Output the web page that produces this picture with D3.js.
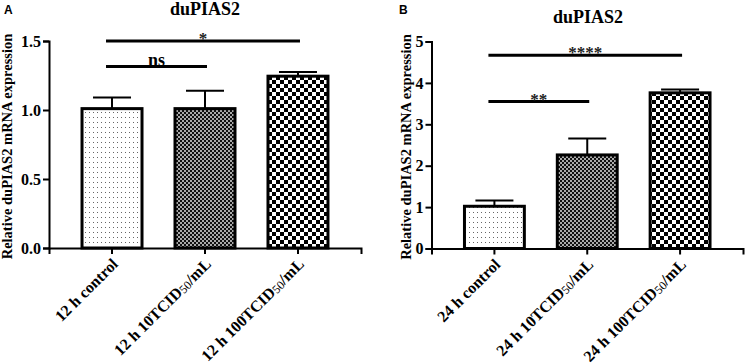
<!DOCTYPE html>
<html>
<head>
<meta charset="utf-8">
<script src="https://cdn.jsdelivr.net/npm/d3@7"></script>
<style>
body { margin: 0; background: #fff; }
</style>
</head>
<body>
<script>
var width = 746;
var height = 364;

// data
var groupsA = ["12 h control", "12 h 10TCID50/mL", "12 h 100TCID50/mL"];
var meansA = [1.01, 1.01, 1.245];
var errorsA = [0.08, 0.13, 0.03];
var ticksA = [0, 0.5, 1.0, 1.5];
var sigA = [
  {from: 0, to: 1, y: 1.315, label: "ns"},
  {from: 0, to: 2, y: 1.5, label: "*"}
];

var groupsB = ["24 h control", "24 h 10TCID50/mL", "24 h 100TCID50/mL"];
var meansB = [1.02, 2.26, 3.76];
var errorsB = [0.14, 0.4, 0.08];
var ticksB = [0, 1, 2, 3, 4, 5];
var sigB = [
  {from: 0, to: 1, y: 3.55, label: "**"},
  {from: 0, to: 2, y: 4.67, label: "****"}
];

var serif = "'Liberation Serif', 'Times New Roman', serif";

var svg = d3.select("body")
.append("svg")
.attr("width", width)
.attr("height", height)
.attr("font-family", serif)
.attr("font-weight", "bold");

// fill patterns
var defs = svg.append("defs");

var p1 = defs.append("pattern")
.attr("id", "dots")
.attr("patternUnits", "userSpaceOnUse")
.attr("width", 4).attr("height", 5);
p1.append("rect").attr("width", 4).attr("height", 5).attr("fill", "#fff");
p1.append("rect").attr("x", 1).attr("y", 2).attr("width", 1).attr("height", 1).attr("fill", "#666");

var p2 = defs.append("pattern")
.attr("id", "fine")
.attr("patternUnits", "userSpaceOnUse")
.attr("width", 4).attr("height", 4);
p2.append("rect").attr("width", 4).attr("height", 4).attr("fill", "#aaa");
p2.append("rect").attr("width", 2).attr("height", 2).attr("fill", "#111");
p2.append("rect").attr("x", 2).attr("y", 2).attr("width", 2).attr("height", 2).attr("fill", "#111");

var p3 = defs.append("pattern")
.attr("id", "coarse")
.attr("patternUnits", "userSpaceOnUse")
.attr("width", 8).attr("height", 8);
p3.append("rect").attr("width", 8).attr("height", 8).attr("fill", "#fff");
p3.append("rect").attr("width", 4).attr("height", 4).attr("fill", "#000");
p3.append("rect").attr("x", 4).attr("y", 4).attr("width", 4).attr("height", 4).attr("fill", "#000");

var fills = ["url(#dots)", "url(#fine)", "url(#coarse)"];

function drawPanel(opt) {
  var g = svg.append("g");

  var xScale = d3.scaleBand()
  .domain(d3.range(opt.groups.length))
  .range([opt.x0, opt.x1])
  .paddingInner(0.3226)
  .paddingOuter(0.339);

  var yScale = d3.scaleLinear()
  .domain([0, d3.max(opt.ticks)])
  .range([opt.y0, opt.y1]);

  // bars
  g.selectAll(".bar")
  .data(opt.means)
  .enter()
  .append("rect")
  .attr("x", function(d, i) { return xScale(i) + 1.5; })
  .attr("y", function(d) { return yScale(d); })
  .attr("width", xScale.bandwidth() - 3)
  .attr("height", function(d) { return yScale(0) - yScale(d); })
  .attr("fill", function(d, i) { return fills[i]; })
  .attr("stroke", "#000")
  .attr("stroke-width", 3);

  // error bars
  opt.means.forEach(function(m, i) {
    var cx = xScale(i) + xScale.bandwidth() / 2;
    var top = yScale(m + opt.errors[i]);
    g.append("line")
    .attr("x1", cx).attr("x2", cx)
    .attr("y1", yScale(m)).attr("y2", top)
    .attr("stroke", "#000").attr("stroke-width", 2);
    g.append("line")
    .attr("x1", cx - 19).attr("x2", cx + 19)
    .attr("y1", top).attr("y2", top)
    .attr("stroke", "#000").attr("stroke-width", 2);
  });

  // axes
  var yAxis = d3.axisLeft(yScale)
  .tickValues(opt.ticks)
  .tickFormat(opt.fmt)
  .tickSizeOuter(0)
  .tickSize(6)
  .tickPadding(2);

  var ya = g.append("g")
  .attr("transform", "translate(" + opt.x0 + ",0)")
  .call(yAxis);
  ya.select(".domain").attr("stroke-width", 2);
  ya.selectAll(".tick line").attr("stroke-width", 2);
  ya.selectAll(".tick text")
  .attr("font-size", "16px")
  .attr("font-family", serif)
  .attr("font-weight", "bold")
  .attr("fill", "#000");

  var xAxis = d3.axisBottom(xScale)
  .tickSizeOuter(0)
  .tickSize(6)
  .tickFormat("");

  var xa = g.append("g")
  .attr("transform", "translate(0," + opt.y0 + ")")
  .call(xAxis);
  xa.select(".domain").attr("stroke-width", 2);
  xa.selectAll(".tick line").attr("stroke-width", 2);

  // rotated category labels
  opt.groups.forEach(function(name, i) {
    var cx = xScale(i) + xScale.bandwidth() / 2;
    var t = g.append("text")
    .attr("transform", "translate(" + (cx + 7) + "," + (opt.y0 + 17) + ") rotate(-45)")
    .attr("text-anchor", "end")
    .attr("font-size", "16px")
    .attr("fill", "#000");
    var parts = name.split("50");
    if (parts.length > 1) {
      t.append("tspan").text(parts[0]);
      t.append("tspan").attr("font-weight", "normal").attr("font-size", "12px").attr("dy", 1).text("50");
      t.append("tspan").attr("dy", -1).text(parts[1]);
    } else {
      t.text(name);
    }
  });

  // significance bars
  opt.sig.forEach(function(s) {
    var xa1 = xScale(s.from) + xScale.bandwidth() / 2 - 6;
    var xa2 = xScale(s.to) + xScale.bandwidth() / 2 + 2;
    var yy = yScale(s.y);
    g.append("line")
    .attr("x1", xa1).attr("x2", xa2)
    .attr("y1", yy).attr("y2", yy)
    .attr("stroke", "#000").attr("stroke-width", 3);
    g.append("text")
    .attr("x", (xa1 + xa2) / 2)
    .attr("y", s.label == "ns" ? yy - 1 : yy + 3)
    .attr("text-anchor", "middle")
    .attr("font-size", s.label == "ns" ? "18px" : "17px")
    .attr("fill", s.label == "ns" ? "#000" : "#222")
    .text(s.label);
  });

  // title
  g.append("text")
  .attr("x", opt.titleX)
  .attr("y", opt.titleY)
  .attr("text-anchor", "middle")
  .attr("font-size", "18px")
  .attr("fill", "#000")
  .text("duPIAS2");

  // panel letter
  g.append("text")
  .attr("x", opt.letterX)
  .attr("y", 14)
  .attr("font-family", "'Liberation Sans', Arial, sans-serif")
  .attr("font-size", "12px")
  .attr("fill", "#000")
  .text(opt.letter);

  // y label
  g.append("text")
  .attr("transform", "translate(" + opt.labelX + "," + ((opt.y0 + opt.y1) / 2 + 2) + ") rotate(-90)")
  .attr("text-anchor", "middle")
  .attr("font-size", "14.5px")
  .attr("fill", "#000")
  .text("Relative duPIAS2 mRNA expression");
}

drawPanel({
  groups: groupsA, means: meansA, errors: errorsA, ticks: ticksA, sig: sigA,
  fmt: d3.format(".1f"),
  x0: 49, x1: 361, y0: 248, y1: 41,
  titleX: 205, titleY: 15, letter: "A", letterX: 4, labelX: 12
});

drawPanel({
  groups: groupsB, means: meansB, errors: errorsB, ticks: ticksB, sig: sigB,
  fmt: d3.format("d"),
  x0: 431.5, x1: 743, y0: 248.5, y1: 41.5,
  titleX: 588, titleY: 23, letter: "B", letterX: 399, labelX: 411
});
</script>
</body>
</html>
